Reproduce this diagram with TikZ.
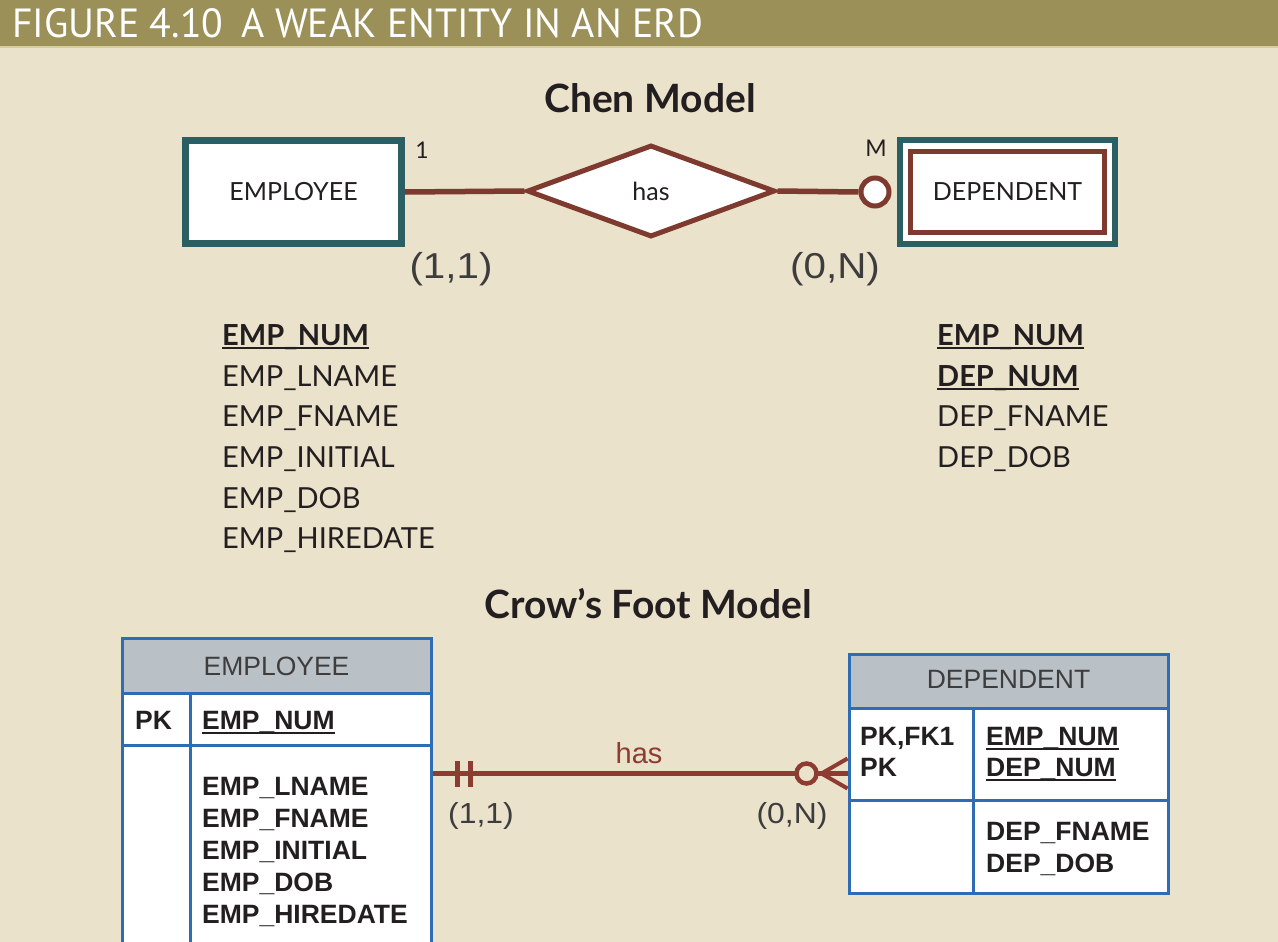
\documentclass[tikz,border=0pt]{standalone}
\usepackage{fontspec}
\setmainfont{Lato}
\newfontfamily\arialf{Liberation Sans}
\newfontfamily\headf{PT Sans}
\usetikzlibrary{shapes.geometric}

\definecolor{bg}{HTML}{EAE2CB}
\definecolor{olive}{HTML}{9A9058}
\definecolor{olivelight}{HTML}{D6CC9E}
\definecolor{teal}{HTML}{2B5F63}
\definecolor{chenred}{HTML}{7E3A2F}
\definecolor{crowred}{HTML}{8E3B31}
\definecolor{tblue}{HTML}{2F6CB6}
\definecolor{hdrgray}{HTML}{B9C1C7}
\definecolor{ink}{HTML}{231F20}
\definecolor{grayink}{HTML}{3D3D3D}

% underline drawn at a fixed depth so it merges with the underscore
\newcommand\keyline[2]{\setbox0=\hbox{#2}\rlap{\rule[#1]{\wd0}{1.8pt}}\box0}

\begin{document}
\begin{tikzpicture}[x=1pt,y=-1pt,
  chenent/.style={draw=teal, line width=7pt, fill=white, minimum width=216pt,
    minimum height=103pt, inner sep=0pt, text=ink, font=\fontsize{25}{28}\selectfont},
  chenrel/.style={diamond, draw=chenred, line width=5pt, fill=white, inner sep=0pt,
    minimum width=248pt, minimum height=92pt, text=ink, font=\fontsize{25}{28}\selectfont},
  chenline/.style={draw=chenred, line width=5.5pt},
  chenopt/.style={circle, draw=chenred, line width=5pt, fill=white, minimum size=28pt, inner sep=0pt},
  title/.style={anchor=base, text=ink, font=\bfseries\fontsize{39}{44}\selectfont},
  card/.style={anchor=base, text=ink, font=\fontsize{23}{26}\selectfont},
  cardp/.style={anchor=base, text=grayink, font=\arialf\fontsize{36}{40}\selectfont},
  attr/.style={anchor=base west, inner sep=0pt, text=ink, font=\fontsize{29}{33}\selectfont},
  keyattr/.style={attr, font=\bfseries\fontsize{29}{33}\selectfont},
  tbl/.style={draw=tblue, line width=3pt, inner sep=0pt},
  tblline/.style={draw=tblue, line width=3pt},
  tblhead/.style={anchor=base, text=grayink, font=\arialf\fontsize{26.5}{30}\selectfont},
  tbltxt/.style={anchor=base west, inner sep=0pt, text=ink, font=\arialf\bfseries\fontsize{26.5}{30}\selectfont},
  crowline/.style={draw=crowred, line width=4.5pt},
  crowlab/.style={anchor=base, text=grayink, font=\arialf\fontsize{29}{32}\selectfont}
]
\useasboundingbox (0,0) rectangle (1278,942);
\fill[bg] (0,0) rectangle (1278,942);

% caption band
\fill[olive] (0,0) rectangle (1278,46);
\fill[olivelight] (0,46) rectangle (1278,48);
\node[anchor=base west, inner sep=0pt, text=white] (caption) at (12,38)
  {\resizebox{691pt}{29pt}{\headf FIGURE 4.10\hspace{0.45em}A WEAK ENTITY IN AN ERD}};

% ---------------- Chen model ----------------
\node[title] (chentitle) at (650,113) {Chen Model};

\node[chenent] (emp) at (293.5,192) {EMPLOYEE};
\node[chenrel] (has) at (651,191) {has};
\node[draw=teal, line width=6pt, fill=white, minimum width=215pt, minimum height=104pt,
  inner sep=0pt] (depout) at (1007.5,192) {};
\node[draw=chenred, line width=5pt, fill=white, minimum width=194pt, minimum height=81pt,
  inner sep=0pt, text=ink, font=\fontsize{25}{28}\selectfont] (dep) at (1007.5,192) {DEPENDENT};
\node[chenopt] (opt) at (875,192) {};

\draw[chenline] (emp.east) -- (has.west);
\draw[chenline] (has.east) -- (opt.west);

\node[card] (one) at (422,158) {1};
\node[card] (many) at (876,157) {M};
\node[cardp] (c11) at (451,278) {\scalebox{1.12}[1]{(1,1)}};
\node[cardp] (c0n) at (835,278) {\scalebox{1.12}[1]{(0,N)}};

% attribute lists
\node[keyattr] (a1) at (222,345) {\keyline{-3.5pt}{EMP\_NUM}};
\node[attr] (a2) at (222,386) {EMP\_LNAME};
\node[attr] (a3) at (222,426) {EMP\_FNAME};
\node[attr] (a4) at (222,467) {EMP\_INITIAL};
\node[attr] (a5) at (222,508) {EMP\_DOB};
\node[attr] (a6) at (222,548) {EMP\_HIREDATE};

\node[keyattr] (b1) at (937,345) {\keyline{-3.5pt}{EMP\_NUM}};
\node[keyattr] (b2) at (937,386) {\keyline{-3.5pt}{DEP\_NUM}};
\node[attr] (b3) at (937,426) {DEP\_FNAME};
\node[attr] (b4) at (937,467) {DEP\_DOB};

% ---------------- Crow's Foot model ----------------
\node[title] (crowtitle) at (648,618) {Crow’s Foot Model};

% EMPLOYEE table (runs past the lower edge)
\fill[white] (122,638) rectangle (431,975);
\fill[hdrgray] (122,638) rectangle (431,693);
\node[tbl, minimum width=309pt, minimum height=337pt] (emptab) at (276.5,806.5) {};
\draw[tblline] (122,693) -- (431,693);
\draw[tblline] (122,745) -- (431,745);
\draw[tblline] (190,693) -- (190,975);
\node[tblhead] (emphead) at (276.5,675) {EMPLOYEE};
\node[tbltxt] (epk) at (135,729) {PK};
\node[tbltxt] (e1) at (202,729) {\keyline{-4.5pt}{EMP\_NUM}};
\node[tbltxt] (e2) at (202,795) {EMP\_LNAME};
\node[tbltxt] (e3) at (202,827) {EMP\_FNAME};
\node[tbltxt] (e4) at (202,859) {EMP\_INITIAL};
\node[tbltxt] (e5) at (202,891) {EMP\_DOB};
\node[tbltxt] (e6) at (202,923) {EMP\_HIREDATE};

% DEPENDENT table
\fill[white] (849,654) rectangle (1168,893);
\fill[hdrgray] (849,654) rectangle (1168,708);
\node[tbl, minimum width=319pt, minimum height=239pt] (deptab) at (1008.5,773.5) {};
\draw[tblline] (849,708) -- (1168,708);
\draw[tblline] (849,800) -- (1168,800);
\draw[tblline] (973,708) -- (973,893);
\node[tblhead] (dephead) at (1008.5,688) {DEPENDENT};
\node[tbltxt] (dpk1) at (860,745) {PK,FK1};
\node[tbltxt] (dpk2) at (860,776) {PK};
\node[tbltxt] (d1) at (986,745) {\keyline{-4.5pt}{EMP\_NUM}};
\node[tbltxt] (d2) at (986,776) {\keyline{-4.5pt}{DEP\_NUM}};
\node[tbltxt] (d3) at (986,840) {DEP\_FNAME};
\node[tbltxt] (d4) at (986,872) {DEP\_DOB};

% relationship line with its end symbols
\coordinate (cfL) at (emptab.east |- deptab.west);
\coordinate (cfR) at (deptab.west);
\draw[crowline] (cfL) -- (cfR);
\draw[crowline] ([xshift=25pt,yshift=-13pt]cfL) -- ([xshift=25pt,yshift=13pt]cfL);
\draw[crowline] ([xshift=38pt,yshift=-13pt]cfL) -- ([xshift=38pt,yshift=13pt]cfL);
\draw[crowline, line width=4pt] ([xshift=-26pt]cfR) -- ([yshift=-15pt]cfR);
\draw[crowline, line width=4pt] ([xshift=-26pt]cfR) -- ([yshift=15pt]cfR);
\node[circle, draw=crowred, line width=4.5pt, fill=bg, minimum size=20pt, inner sep=0pt]
  (zero) at ([xshift=-41pt]cfR) {};
\node[anchor=base, text=crowred, font=\arialf\fontsize{29}{32}\selectfont] (haslab) at (639,763) {has};
\node[crowlab] (k11) at (481,823) {\scalebox{1.1}[1]{(1,1)}};
\node[crowlab] (k0n) at (792,823) {\scalebox{1.1}[1]{(0,N)}};
\end{tikzpicture}
\end{document}
